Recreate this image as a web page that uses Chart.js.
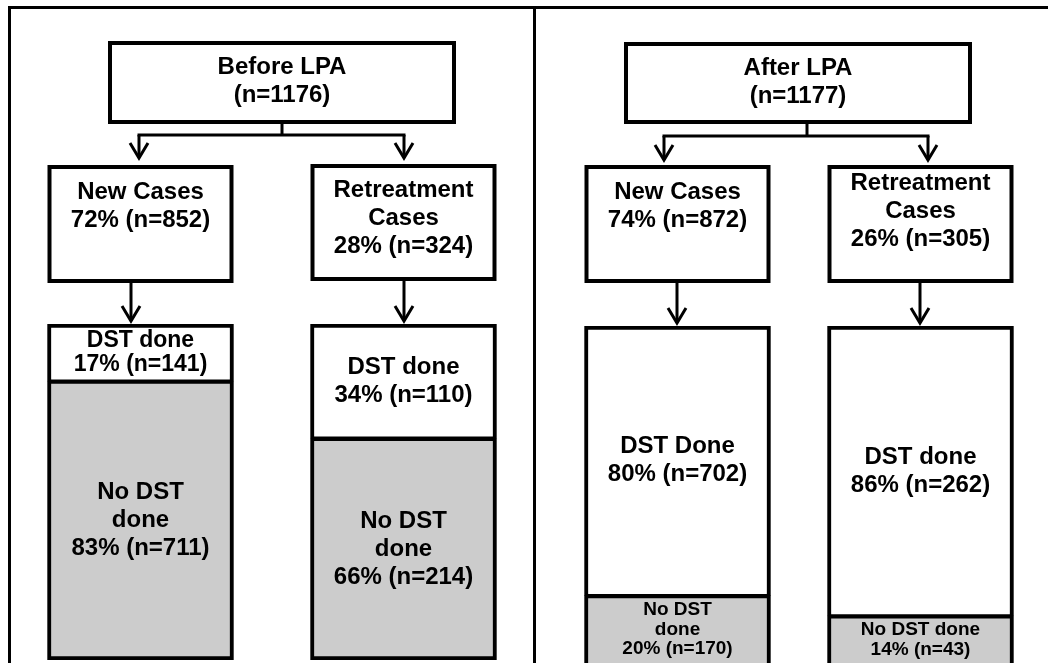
<!DOCTYPE html>
<html>
<head>
<meta charset="utf-8">
<script src="https://cdn.jsdelivr.net/npm/chart.js@4.4.0/dist/chart.umd.min.js"></script>
<style>
  html, body { margin: 0; padding: 0; background: #fff; overflow: hidden; }
  #before { position: absolute; left: 0; top: 0; }
  #after { position: absolute; left: 536px; top: 0; }
</style>
</head>
<body>
<canvas id="before" width="536" height="663"></canvas>
<canvas id="after" width="512" height="663"></canvas>
<script>
// panels
var panelTitles = ['Before LPA', 'After LPA'];
var panelTotals = [1176, 1177];

// case groups (before new, before retreat, after new, after retreat)
var caseNames = [['New Cases'], ['Retreatment', 'Cases'], ['New Cases'], ['Retreatment', 'Cases']];
var casePct = [72, 28, 74, 26];
var caseN = [852, 324, 872, 305];

// DST outcome per group
var dstLabels = [['DST done'], ['DST done'], ['DST Done'], ['DST done']];
var dstPct = [17, 34, 80, 86];
var dstN = [141, 110, 702, 262];
var noDstLabels = [['No DST', 'done'], ['No DST', 'done'], ['No DST', 'done'], ['No DST done']];
var noDstPct = [83, 66, 20, 14];
var noDstN = [711, 214, 170, 43];

var FONT_SIZE = 24;
var LINE = 28;

// layout of the flow boxes drawn above the bars
var layout = [
    {frame: 'left', titleBox: [108, 41, 456, 124], titleY: 67, stemX: 282, busY: 135, busX: [139, 404], busTip: 158,
     caseTop: [165, 164], caseBottom: [283, 281], caseTextY: [192, 190], lowX: [131, 404], lowTip: 321},
    {frame: 'right', titleBox: [88, 42, 436, 124], titleY: 68, stemX: 271, busY: 136, busX: [128, 392], busTip: 160,
     caseTop: [165, 165], caseBottom: [283, 283], caseTextY: [192, 183], lowX: [141, 384], lowTip: 323}
];

function line(ctx, x0, y0, x1, y1) {
    ctx.beginPath();
    ctx.moveTo(x0, y0);
    ctx.lineTo(x1, y1);
    ctx.stroke();
}

function arrow(ctx, x, y0, y1) {
    line(ctx, x, y0, x, y1);
    ctx.beginPath();
    ctx.moveTo(x - 9, y1 - 15);
    ctx.lineTo(x, y1);
    ctx.lineTo(x + 9, y1 - 15);
    ctx.stroke();
}

function box(ctx, x0, y0, x1, y1) {
    ctx.lineWidth = 4;
    ctx.fillStyle = '#fff';
    ctx.fillRect(x0, y0, x1 - x0, y1 - y0);
    ctx.strokeRect(x0 + 2, y0 + 2, x1 - x0 - 4, y1 - y0 - 4);
}

function textLines(ctx, lines, x, y, size, step) {
    size = size || FONT_SIZE;
    step = step || LINE;
    ctx.fillStyle = '#000';
    ctx.font = 'bold ' + size + "px 'Liberation Sans', Arial, sans-serif";
    ctx.textAlign = 'center';
    ctx.textBaseline = 'middle';
    lines.forEach(function(t, i) { ctx.fillText(t, x, y + i * step); });
}

var flowPlugin = {
    id: 'flow',
    beforeDatasetsDraw: function(chart, args, opts) {
        var p = opts.panel;
        var L = layout[p];
        var ctx = chart.ctx;
        var W = chart.width, H = chart.height;
        var bars = chart.getDatasetMeta(0).data;
        ctx.save();
        ctx.strokeStyle = '#000';
        ctx.lineCap = 'butt';
        ctx.lineJoin = 'miter';

        // outer frame
        ctx.lineWidth = 3;
        if (L.frame === 'left') {
            line(ctx, 8, 7.5, W, 7.5);
            line(ctx, 9.5, 6, 9.5, H);
            line(ctx, 534.5, 6, 534.5, H);
        } else {
            line(ctx, 0, 7.5, W, 7.5);
        }

        // title box
        var tb = L.titleBox;
        box(ctx, tb[0], tb[1], tb[2], tb[3]);
        textLines(ctx, [panelTitles[p], '(n=' + panelTotals[p] + ')'], (tb[0] + tb[2]) / 2, L.titleY);

        // split arrows
        ctx.lineWidth = 3;
        line(ctx, L.stemX, tb[3], L.stemX, L.busY);
        line(ctx, L.busX[0] - 1.5, L.busY, L.busX[1] + 1.5, L.busY);
        arrow(ctx, L.busX[0], L.busY, L.busTip);
        arrow(ctx, L.busX[1], L.busY, L.busTip);

        // case boxes, aligned with the bars below
        for (var i = 0; i < 2; i++) {
            var k = p * 2 + i;
            var b = bars[i];
            var x0 = b.x - b.width / 2, x1 = b.x + b.width / 2;
            box(ctx, x0, L.caseTop[i], x1, L.caseBottom[i]);
            textLines(ctx, caseNames[k].concat([casePct[k] + '% (n=' + caseN[k] + ')']), b.x, L.caseTextY[i]);
            ctx.lineWidth = 3;
            arrow(ctx, L.lowX[i], L.caseBottom[i], L.lowTip);
        }
        ctx.restore();
    },
    afterDatasetsDraw: function(chart, args, opts) {
        var p = opts.panel;
        var ctx = chart.ctx;
        var visible = opts.visibleBottom;
        ctx.save();
        chart.data.datasets.forEach(function(ds, di) {
            var meta = chart.getDatasetMeta(di);
            meta.data.forEach(function(el, i) {
                var k = p * 2 + i;
                var lines = di === 0
                    ? noDstLabels[k].concat([noDstPct[k] + '% (n=' + noDstN[k] + ')'])
                    : dstLabels[k].concat([dstPct[k] + '% (n=' + dstN[k] + ')']);
                var top = Math.min(el.y, el.base) + 4;
                var bottom = Math.min(Math.max(el.y, el.base), visible) - 4;
                var avail = bottom - top;
                var n = lines.length;
                var size = FONT_SIZE, step = LINE;
                if ((n - 1) * LINE + FONT_SIZE > avail) {
                    var s = Math.min(1, avail / (FONT_SIZE * ((n - 1) * 1.05 + 1)));
                    size = Math.floor(FONT_SIZE * s);
                    step = size * 1.05;
                }
                var cy = (top + bottom) / 2;
                textLines(ctx, lines, el.x, cy - (n - 1) * step / 2, size, step);
            });
        });
        ctx.restore();
    }
};

function makeChart(id, p, padding, baseBorder, visibleBottom) {
    var s = p * 2;
    return new Chart(document.getElementById(id), {
        type: 'bar',
        data: {
            labels: [caseNames[s].join(' '), caseNames[s + 1].join(' ')],
            datasets: [
                {
                    label: 'No DST done',
                    data: noDstPct.slice(s, s + 2),
                    backgroundColor: '#cccccc',
                    borderColor: '#000',
                    borderWidth: {top: 3, left: 4, right: 4, bottom: baseBorder},
                    borderSkipped: false,
                    barThickness: 186
                },
                {
                    label: 'DST done',
                    data: dstPct.slice(s, s + 2),
                    backgroundColor: '#ffffff',
                    borderColor: '#000',
                    borderWidth: {top: 4, left: 4, right: 4, bottom: 2},
                    borderSkipped: false,
                    barThickness: 186
                }
            ]
        },
        options: {
            responsive: false,
            animation: false,
            layout: {padding: padding},
            scales: {
                x: {stacked: true, display: false},
                y: {stacked: true, display: false, min: 0, max: 100}
            },
            plugins: {
                legend: {display: false},
                tooltip: {enabled: false},
                flow: {panel: p, visibleBottom: visibleBottom}
            }
        },
        plugins: [flowPlugin]
    });
}

makeChart('before', 0, {left: 9, right: 1, top: 324, bottom: 3}, 4, 660);
makeChart('after', 1, {left: 20, right: 6, top: 326, bottom: 0}, 0, 663);
</script>
</body>
</html>
